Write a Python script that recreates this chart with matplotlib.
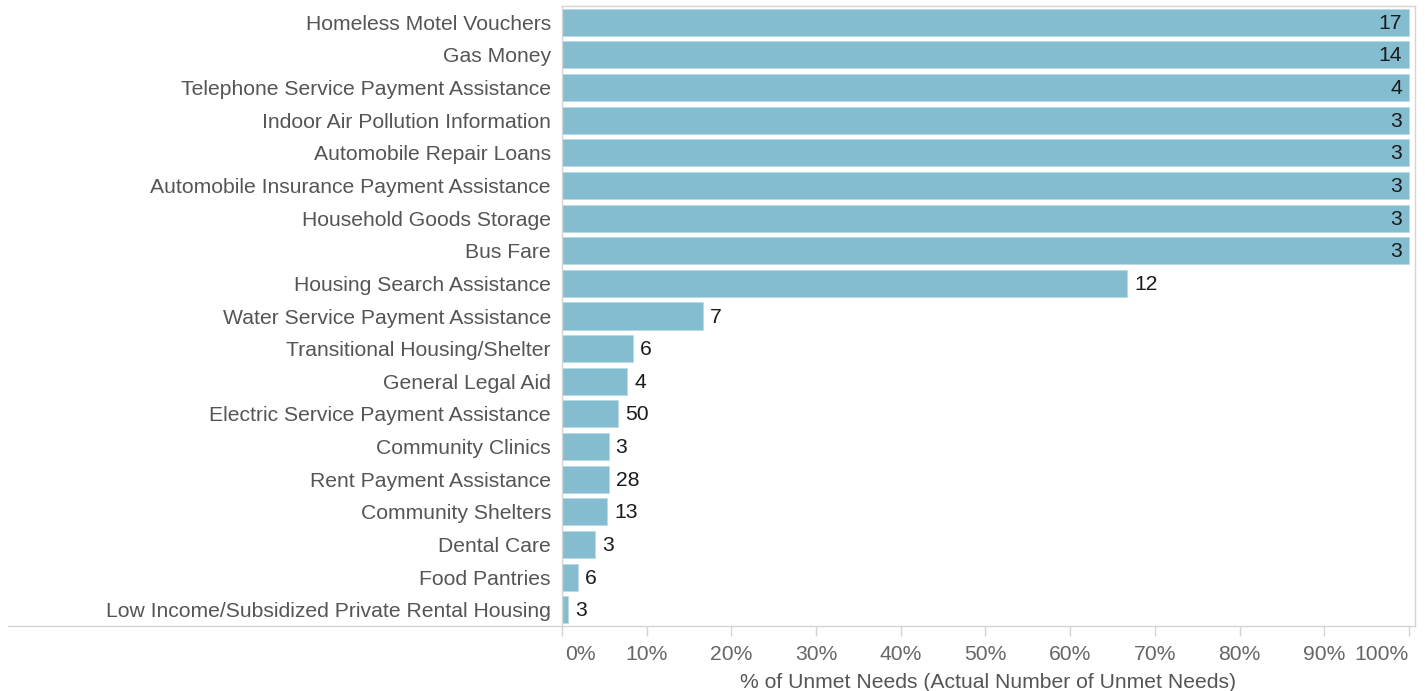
import matplotlib
matplotlib.use("Agg")
import matplotlib.pyplot as plt
from matplotlib.lines import Line2D
import matplotlib.transforms as mtransforms

categories = [
    "Homeless Motel Vouchers",
    "Gas Money",
    "Telephone Service Payment Assistance",
    "Indoor Air Pollution Information",
    "Automobile Repair Loans",
    "Automobile Insurance Payment Assistance",
    "Household Goods Storage",
    "Bus Fare",
    "Housing Search Assistance",
    "Water Service Payment Assistance",
    "Transitional Housing/Shelter",
    "General Legal Aid",
    "Electric Service Payment Assistance",
    "Community Clinics",
    "Rent Payment Assistance",
    "Community Shelters",
    "Dental Care",
    "Food Pantries",
    "Low Income/Subsidized Private Rental Housing",
]
pct_unmet = [100, 100, 100, 100, 100, 100, 100, 100, 66.7, 16.6, 8.4, 7.7, 6.6, 5.5, 5.5, 5.3, 3.9, 1.85, 0.7]
unmet_counts = [17, 14, 4, 3, 3, 3, 3, 3, 12, 7, 6, 4, 50, 3, 28, 13, 3, 6, 3]
tick_values = [0, 10, 20, 30, 40, 50, 60, 70, 80, 90, 100]
tick_labels = ["0%", "10%", "20%", "30%", "40%", "50%", "60%", "70%", "80%", "90%", "100%"]

W, H = 1425, 691
fig = plt.figure(figsize=(W / 100, H / 100), dpi=100)
ax_left, ax_right, ax_top, ax_bottom = 562, 1415, 6, 626
ax = fig.add_axes([ax_left / W, 1 - ax_bottom / H, (ax_right - ax_left) / W, (ax_bottom - ax_top) / H])

FONT = "Liberation Sans"
FS = 15.2
bar_color = "#83bdcf"
grid_grey = "#d4d4d4"
label_grey = "#555555"

y = list(range(len(categories)))
ax.barh(y, pct_unmet, height=0.83, color=bar_color, edgecolor="#b8dbe6", linewidth=0.6)
ax.set_ylim(len(categories) - 0.5, -0.5)
ax.set_xlim(0, 100.71)

ax.set_yticks(y)
ax.set_yticklabels(categories, fontsize=FS, color=label_grey, family=FONT)
ax.tick_params(axis="y", length=0, pad=8)

ax.set_xticks(tick_values)
ax.set_xticklabels(tick_labels, fontsize=FS, color="#666666", family=FONT)
ax.tick_params(axis="x", length=7, width=1, color=grid_grey, pad=7)
xt = ax.get_xticklabels()
xt[0].set_horizontalalignment("left")
xt[-1].set_horizontalalignment("right")
off0 = mtransforms.ScaledTranslation(3 / 100, 0, fig.dpi_scale_trans)
xt[0].set_transform(xt[0].get_transform() + off0)

ax.set_xlabel("% of Unmet Needs (Actual Number of Unmet Needs)", fontsize=FS,
              color=label_grey, family=FONT, labelpad=6)

for s in ax.spines.values():
    s.set_color(grid_grey)
    s.set_linewidth(1)

for i, (p, c) in enumerate(zip(pct_unmet, unmet_counts)):
    if p >= 99.9:
        ax.annotate(str(c), xy=(p, i), xytext=(-7, -1), textcoords="offset pixels",
                    ha="right", va="center", fontsize=FS, color="#1a1a1a", family=FONT)
    else:
        ax.annotate(str(c), xy=(p, i), xytext=(7, -1), textcoords="offset pixels",
                    ha="left", va="center", fontsize=FS, color="#1a1a1a", family=FONT)

# bottom line extending under the row headers
fig.add_artist(Line2D([8 / W, ax_left / W], [1 - ax_bottom / H, 1 - ax_bottom / H],
                      transform=fig.transFigure, color=grid_grey, linewidth=1))

fig.savefig("out.png", dpi=100)
